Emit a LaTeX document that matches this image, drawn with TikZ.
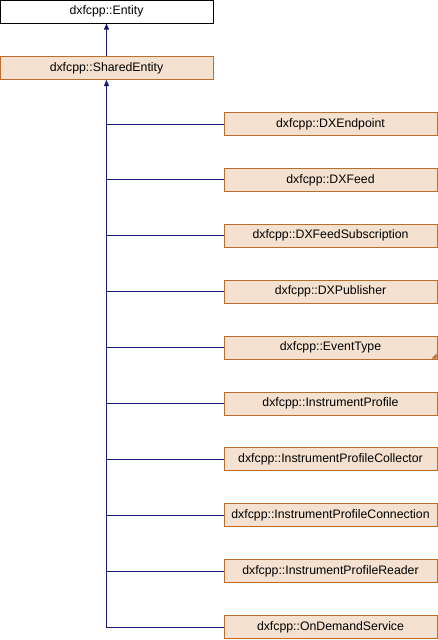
\documentclass[tikz,border=0pt]{standalone}
\usepackage{fontspec}
\setmainfont{Liberation Sans}
\usepackage{tikz}
\usetikzlibrary{arrows.meta,positioning,calc}
\definecolor{edgeblue}{RGB}{25,25,112}
\definecolor{boxfill}{RGB}{245,225,207}
\definecolor{boxline}{RGB}{185,110,45}
\tikzset{
    base/.style={
        rectangle,
        draw=black,
        fill=white,
        line width=1pt,
        minimum width=213pt,
        minimum height=23pt,
        inner sep=0pt,
        font=\fontsize{12.3}{14}\selectfont,
    },
    cls/.style={
        base,
        draw=boxline,
        fill=boxfill,
    },
    inh/.style={
        draw=edgeblue,
        line width=1pt,
        -{Triangle[length=6pt,width=5pt]},
    },
    branch/.style={
        draw=edgeblue,
        line width=1pt,
    },
    x=1pt, y=-1pt,
  }

\begin{document}
\begin{tikzpicture}
              \useasboundingbox (0,0) rectangle (438,640);
              \node [base] (entity) at (106.5,11.5) {dxfcpp::Entity};
              \node [cls] (shared) at (106.5,68) {dxfcpp::SharedEntity};

              \foreach \txt [count=\i] in {DXEndpoint,DXFeed,DXFeedSubscription,DXPublisher,EventType,
                  InstrumentProfile,InstrumentProfileCollector,InstrumentProfileConnection,
                  InstrumentProfileReader,OnDemandService}
                  \node [cls] (d\i) at (330.5,{124+55.9*(\i-1)}) {dxfcpp::\txt};

              % marker for the template class
              \fill[boxline] ($(d5.south east)+(-1,-1)$) -- ++(-5,0) -- ++(5,-5) -- cycle;

              \draw [inh] (shared) -- (entity);
              \draw [inh] (d10.west) -| (shared.south);
              \foreach \i in {1,...,9}
                  \draw [branch] (d\i.west) -- (d\i.west -| shared.south);
\end{tikzpicture}
\end{document}
